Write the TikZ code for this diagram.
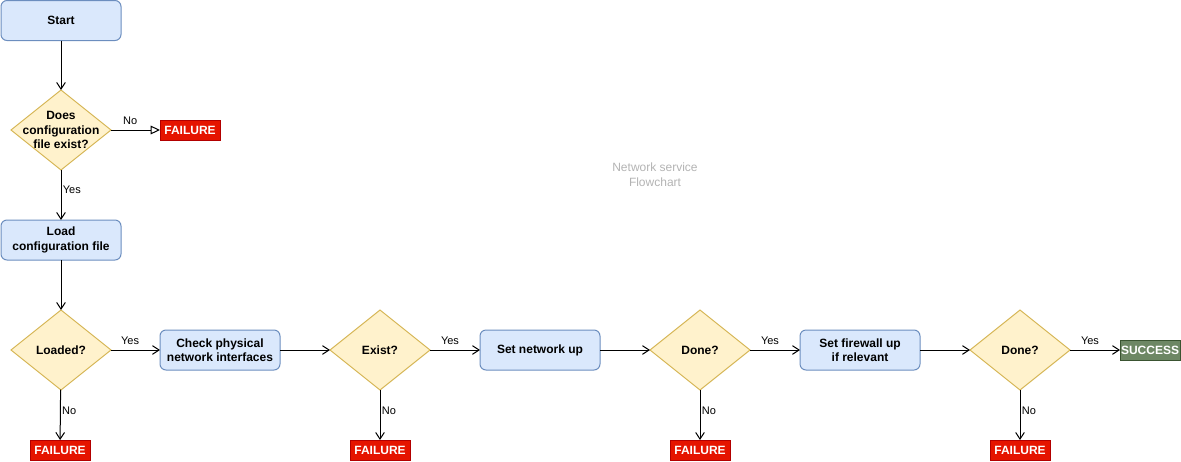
\documentclass[tikz,border=0pt]{standalone}
\usepackage{fontspec}
\setmainfont{Liberation Sans}
\usetikzlibrary{arrows.meta, shapes.geometric}
\definecolor{lightA}{RGB}{218, 232, 252}
\definecolor{darkA} {RGB}{108, 142, 191}
\definecolor{lightB}{RGB}{255, 242, 204}
\definecolor{darkB} {RGB}{214, 182,  86}
\definecolor{lightC}{RGB}{229,  20,   0}
\definecolor{darkC} {RGB}{178,   0,   0}
\definecolor{lightD}{RGB}{109, 135, 100}
\definecolor{darkD} {RGB}{ 58,  84,  49}
\definecolor{noteC} {RGB}{179, 179, 179}

\begin{document}
\begin{tikzpicture}[x=0.75pt, y=-0.75pt,
  txt/.style={font=\fontsize{9}{10.8}\selectfont\bfseries, align=center},
  process/.style={txt, draw=darkA, fill=lightA, line width=0.75pt, rounded corners=4.5pt,
    minimum width=90pt, minimum height=30pt, inner sep=0pt, outer sep=0pt},
  decision/.style={diamond, draw=darkB, fill=lightB, line width=0.75pt,
    minimum width=75pt, minimum height=60pt, inner sep=0pt, outer sep=0pt},
  failure/.style={txt, draw=darkC, fill=lightC, text=white, line width=0.75pt,
    minimum width=45pt, minimum height=15pt, inner sep=0pt, outer sep=0pt},
  success/.style={failure, draw=darkD, fill=lightD},
  flow/.style={line width=0.75pt, -{Straight Barb[length=5pt, width=6.5pt]}},
  lbl/.style={font=\fontsize{8.25}{9.9}\selectfont, inner sep=1pt}]
  \useasboundingbox (0,0) rectangle (1181,461);

  % top column
  \node[process] (start) at (61, 20.5) {Start};
  \node[decision, label={[txt]center:Does\\configuration\\file exist?}] (d1) at (61, 130) {};
  \node[failure] (f1) at (190, 130) {FAILURE};
  \node[process] (load) at (61, 240) {Load\\configuration file};

  % bottom row
  \node[decision, label={[txt]center:Loaded?}] (d2) at (61, 350) {};
  \node[process] (check) at (220, 350) {Check physical\\network interfaces};
  \node[decision, label={[txt]center:Exist?}] (d3) at (380, 350) {};
  \node[process] (net) at (540, 350) {Set network up};
  \node[decision, label={[txt]center:Done?}] (d4) at (700, 350) {};
  \node[process] (fw) at (860, 350) {Set firewall up\\if relevant};
  \node[decision, label={[txt]center:Done?}] (d5) at (1020, 350) {};
  \node[success] (ok) at (1150, 350) {SUCCESS};

  \node[failure] (f2) at (60, 450) {FAILURE};
  \node[failure] (f3) at (380, 450) {FAILURE};
  \node[failure] (f4) at (700, 450) {FAILURE};
  \node[failure] (f5) at (1020, 450) {FAILURE};

  \node[font=\fontsize{9}{11.25}\selectfont, text=noteC, align=center] (title) at (655, 175)
    {Network service\\Flowchart};

  % connectors
  \draw[flow] (start) -- (d1);
  \draw[line width=0.75pt, -{Triangle[open, length=7pt, width=6.5pt, fill=white]}] (d1) -- (f1)
    node[lbl, pos=0.39, above=2.5pt] (no1) {No};
  \draw[flow] (d1) -- (load) node[lbl, pos=0.4, right] (yes1) {Yes};
  \draw[flow] (load) -- (d2);
  \draw[flow] (d2) -- (check) node[lbl, pos=0.39, above=2.5pt] (yes2) {Yes};
  \draw[flow] (d2) -- (f2) node[lbl, pos=0.42, right] (no2) {No};
  \draw[flow] (check) -- (d3);
  \draw[flow] (d3) -- (net) node[lbl, pos=0.4, above=2.5pt] (yes3) {Yes};
  \draw[flow] (d3) -- (f3) node[lbl, pos=0.42, right] (no3) {No};
  \draw[flow] (net) -- (d4);
  \draw[flow] (d4) -- (fw) node[lbl, pos=0.4, above=2.5pt] (yes4) {Yes};
  \draw[flow] (d4) -- (f4) node[lbl, pos=0.42, right] (no4) {No};
  \draw[flow] (fw) -- (d5);
  \draw[flow] (d5) -- (ok) node[lbl, pos=0.4, above=2.5pt] (yes5) {Yes};
  \draw[flow] (d5) -- (f5) node[lbl, pos=0.42, right] (no5) {No};
\end{tikzpicture}
\end{document}
